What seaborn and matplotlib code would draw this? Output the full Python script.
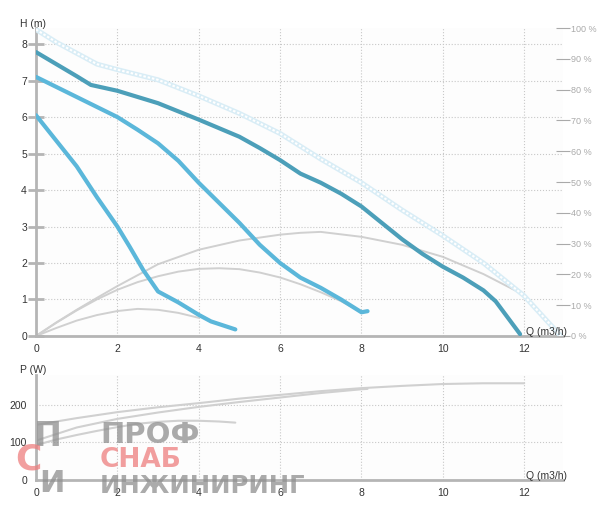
import matplotlib
matplotlib.use("Agg")
import matplotlib.pyplot as plt
import seaborn as sns

# ---------------- data ----------------
# Head curves H (m) vs Q (m3/h)
c1_q = [0, 0.5, 1, 1.35, 2, 3, 4, 5, 5.5, 6, 6.5, 7, 7.5, 8, 8.5, 9, 9.5, 10, 10.5, 11, 11.3, 11.6, 11.9]
c1_h = [7.78, 7.45, 7.12, 6.88, 6.72, 6.38, 5.93, 5.46, 5.15, 4.82, 4.45, 4.2, 3.9, 3.55, 3.1, 2.65, 2.25, 1.9, 1.6, 1.25, 0.95, 0.5, 0.05]

c2_q = [0, 1, 2, 2.5, 3, 3.5, 4, 4.5, 5, 5.5, 6, 6.5, 7, 7.5, 8, 8.15]
c2_h = [7.1, 6.55, 6.0, 5.65, 5.28, 4.8, 4.2, 3.65, 3.1, 2.5, 2.0, 1.6, 1.32, 1.0, 0.65, 0.68]

c3_q = [0, 0.5, 1, 1.5, 2, 2.3, 2.64, 3, 3.5, 4, 4.3, 4.9]
c3_h = [6.05, 5.35, 4.65, 3.8, 3.0, 2.45, 1.8, 1.22, 0.92, 0.58, 0.4, 0.18]

# Max curve (light dotted)
mx_q = [0, 0.5, 1, 1.5, 2, 3, 4, 5, 6, 7, 8, 9, 10, 11, 12, 12.9]
mx_h = [8.4, 8.05, 7.75, 7.45, 7.3, 7.02, 6.58, 6.1, 5.55, 4.85, 4.2, 3.45, 2.75, 2.0, 1.1, 0.0]

# Efficiency curves (%)
e1_q = [0, 0.5, 1, 1.5, 2, 3, 4, 5, 6, 6.5, 7, 8, 9, 10, 11, 12]
e1_p = [0, 4.4, 8.5, 12.4, 16.2, 23.3, 28.0, 31.0, 32.9, 33.5, 33.8, 32.2, 29.6, 25.7, 20.1, 13.3]
e2_q = [0, 0.5, 1, 1.5, 2, 2.5, 3, 3.5, 4, 4.5, 5, 5.5, 6, 6.5, 7, 7.5, 8]
e2_p = [0, 4.3, 8.3, 11.9, 15.0, 17.5, 19.4, 20.9, 21.8, 22.0, 21.7, 20.6, 19.0, 16.8, 14.2, 11.3, 7.7]
e3_q = [0, 0.5, 1, 1.5, 2, 2.5, 3, 3.5, 4]
e3_p = [0, 2.6, 5.0, 6.8, 8.1, 8.8, 8.5, 7.5, 5.9]

# Power curves P (W)
p1_q = [0, 1, 2, 3, 4, 5, 6, 7, 8, 9, 10, 11, 12]
p1_w = [147, 165, 181, 194, 205, 217, 227, 237, 245, 251, 256, 258, 258]
p2_q = [0, 1, 2, 3, 4, 5, 6, 7, 8, 8.15]
p2_w = [105, 140, 163, 180, 195, 208, 220, 232, 242, 243]
p3_q = [0, 0.5, 1, 1.5, 2, 2.5, 3, 3.5, 4, 4.5, 4.9]
p3_w = [93, 108, 120, 131, 141, 150, 155, 158, 158, 156, 153]

x_ticks = [0, 2, 4, 6, 8, 10, 12]
h_ticks = [0, 1, 2, 3, 4, 5, 6, 7, 8]
pct_ticks = [0, 10, 20, 30, 40, 50, 60, 70, 80, 90, 100]
p_ticks = [0, 100, 200]

# ---------------- style ----------------
sns.set_style("white")
plt.rcParams['font.family'] = ['Liberation Sans', 'DejaVu Sans']

C_DARK = "#4c9fb9"
C_LIGHT = "#5bb7da"
C_GRAY = "#d0d0d0"
SPINE = "#b5b5b5"
TXT = "#333333"

fig = plt.figure(figsize=(6, 5.15), dpi=100)
ax1 = fig.add_axes([0.06, 0.3476, 0.878, 0.598])
ax2 = fig.add_axes([0.06, 0.068, 0.878, 0.2038])

def style_axes(ax, yticks, ylim):
    ax.set_xlim(0, 12.95)
    ax.set_ylim(*ylim)
    ax.set_facecolor("#fdfdfd")
    ax.set_xticks(x_ticks)
    ax.set_yticks(yticks)
    ax.grid(True, linestyle=":", color="#c8c8c8", linewidth=0.8)
    ax.set_axisbelow(True)
    for s in ["top", "right"]:
        ax.spines[s].set_visible(False)
    for s in ["left", "bottom"]:
        ax.spines[s].set_color(SPINE)
        ax.spines[s].set_linewidth(2)
    ax.tick_params(axis="x", direction="inout", length=8, width=2, color="#222222",
                   labelsize=7.5, labelcolor=TXT, pad=2)
    ax.tick_params(axis="y", direction="inout", length=11, width=2, color=SPINE,
                   labelsize=7.5, labelcolor=TXT, pad=1)
    ax.set_xlabel("")
    ax.set_ylabel("")

style_axes(ax1, h_ticks, (0, 8.44))
style_axes(ax2, p_ticks, (0, 280))

# right % axis
axr = ax1.twinx()
axr.set_ylim(0, 100)
axr.set_yticks(pct_ticks)
axr.set_yticklabels([f"{v} %" for v in pct_ticks])
axr.tick_params(axis="y", direction="inout", length=10, width=0.8, color="#aaaaaa",
                labelsize=6.5, labelcolor="#aaaaaa", pad=1)
for s in axr.spines.values():
    s.set_visible(False)

# efficiency curves
for q, p in [(e1_q, e1_p), (e2_q, e2_p), (e3_q, e3_p)]:
    sns.lineplot(x=q, y=p, ax=axr, color=C_GRAY, linewidth=1.4, sort=False, estimator=None)
axr.set_ylabel("")

# max curve (faint hollow dotted look)
sns.lineplot(x=mx_q, y=mx_h, ax=ax1, color="#d9edf6", linewidth=3.6, sort=False, estimator=None, zorder=3)
sns.lineplot(x=mx_q, y=mx_h, ax=ax1, color="white", linewidth=1.5, linestyle=(0, (1.2, 0.9)),
             sort=False, estimator=None, zorder=4)
# head curves
sns.lineplot(x=c3_q, y=c3_h, ax=ax1, color=C_LIGHT, linewidth=3, sort=False, estimator=None, zorder=5)
sns.lineplot(x=c2_q, y=c2_h, ax=ax1, color=C_LIGHT, linewidth=3, sort=False, estimator=None, zorder=5)
sns.lineplot(x=c1_q, y=c1_h, ax=ax1, color=C_DARK, linewidth=3, sort=False, estimator=None, zorder=5)
ax1.set_zorder(axr.get_zorder() + 1)
ax1.patch.set_visible(False)
axr.patch.set_visible(True)
axr.patch.set_facecolor("#fdfdfd")
ax1.set_ylabel("")

# power curves
for q, w in [(p1_q, p1_w), (p2_q, p2_w), (p3_q, p3_w)]:
    sns.lineplot(x=q, y=w, ax=ax2, color=C_GRAY, linewidth=1.5, sort=False, estimator=None)
ax2.set_ylabel("")

# axis titles
fig.text(33 / 600, 1 - 24 / 515, "H (m)", ha="center", va="center", fontsize=7.5, color=TXT)
fig.text(33 / 600, 1 - 370 / 515, "P (W)", ha="center", va="center", fontsize=7.5, color=TXT)
fig.text(526 / 600, 1 - 332 / 515, "Q (m3/h)", ha="left", va="center", fontsize=7.5, color=TXT)
fig.text(526 / 600, 1 - 476 / 515, "Q (m3/h)", ha="left", va="center", fontsize=7.5, color=TXT)

# watermark
WM_GRAY = "#8f8f8f"
WM_RED = "#ee7f7f"
fig.text(100 / 600, 1 - 435 / 515, "ПРОФ", ha="left", va="center", fontsize=21,
         fontweight="bold", color=WM_GRAY, alpha=0.75, family=["DejaVu Sans"], zorder=20)
fig.text(100 / 600, 1 - 460 / 515, "СНАБ", ha="left", va="center", fontsize=19,
         fontweight="bold", color=WM_RED, alpha=0.75, family=["DejaVu Sans"], zorder=20)
fig.text(100 / 600, 1 - 486 / 515, "ИНЖИНИРИНГ", ha="left", va="center", fontsize=17.5,
         fontweight="bold", color=WM_GRAY, alpha=0.75, family=["DejaVu Sans"], zorder=20)
fig.text(48 / 600, 1 - 436 / 515, "П", ha="center", va="center", fontsize=24,
         fontweight="bold", color=WM_GRAY, alpha=0.75, family=["DejaVu Sans"], zorder=20)
fig.text(28 / 600, 1 - 459 / 515, "С", ha="center", va="center", fontsize=26,
         fontweight="bold", color=WM_RED, alpha=0.75, family=["DejaVu Sans"], zorder=20)
fig.text(52 / 600, 1 - 484 / 515, "И", ha="center", va="center", fontsize=22,
         fontweight="bold", color=WM_GRAY, alpha=0.75, family=["DejaVu Sans"], zorder=20)

fig.savefig("out.png", dpi=100)
